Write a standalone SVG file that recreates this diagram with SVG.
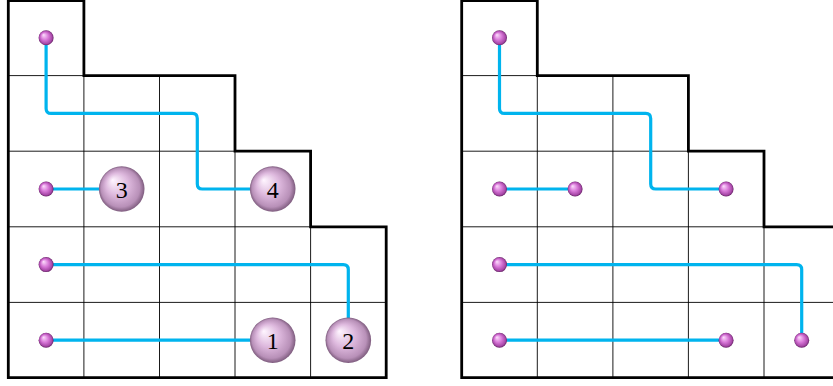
<svg xmlns="http://www.w3.org/2000/svg" width="833" height="386" viewBox="0 0 833 386">
<style>
.grid{stroke:#000;stroke-width:0.9;fill:none}
.outline{stroke:#000;stroke-width:2.8;fill:none;stroke-linejoin:miter}
.path{stroke:#00B4EE;stroke-width:3.2;fill:none;stroke-linejoin:round;stroke-linecap:round}
.big{fill:url(#gBig)}
.small{fill:url(#gSmall)}
.num{font-family:"Liberation Serif","DejaVu Serif",serif;font-size:24px;text-anchor:middle;fill:#000}
</style>
<defs>
<radialGradient id="gBig" cx="0.5" cy="0.5" r="0.5" fx="0.3" fy="0.3">
<stop offset="0" stop-color="#FFF6FF"/>
<stop offset="0.5" stop-color="#DDB8DD"/>
<stop offset="0.85" stop-color="#B890B8"/>
<stop offset="1" stop-color="#7E5C7E"/>
</radialGradient>
<radialGradient id="gSmall" cx="0.5" cy="0.5" r="0.5" fx="0.32" fy="0.3">
<stop offset="0" stop-color="#FDE0FD"/>
<stop offset="0.5" stop-color="#D878D8"/>
<stop offset="0.85" stop-color="#A848A8"/>
<stop offset="1" stop-color="#662266"/>
</radialGradient>
<g id="board">
<path class="grid" d="M8.3,75.6H83.9 M8.3,151.2H235 M8.3,226.8H310.6 M8.3,302.4H386.2 M83.9,75.6V378 M159.5,75.6V378 M235,151.2V378 M310.6,226.8V378"/>
<path class="outline" d="M8.3,0.5H83.9V75.6H235V151.2H310.6V226.8H386.2V377.6H8.3Z"/>
</g>
</defs>
<g id="left-board">
<use href="#board"/>
</g>
<g id="right-board">
<use href="#board" transform="translate(453.4,0)"/>
</g>
<g id="connectors">
<path class="path" d="M46.1,37.8V108.4Q46.1,113.4 51.1,113.4H192.3Q197.3,113.4 197.3,118.4V184Q197.3,189 202.3,189H272.7"/>
<path class="path" d="M46.1,189H121.7"/>
<path class="path" d="M46.1,264.6H343.3Q348.3,264.6 348.3,269.6V340.2"/>
<path class="path" d="M46.1,340.2H272.7"/>
<path class="path" d="M499.5,37.8V108.4Q499.5,113.4 504.5,113.4H645.7Q650.7,113.4 650.7,118.4V184Q650.7,189 655.7,189H726.1"/>
<path class="path" d="M499.5,189H575.1"/>
<path class="path" d="M499.5,264.6H796.7Q801.7,264.6 801.7,269.6V340.2"/>
<path class="path" d="M499.5,340.2H726.1"/>
</g>
<g id="left-nodes">
<g id="L-s1"><circle class="small" cx="46.1" cy="37.8" r="7.5"/></g>
<g id="L-s2"><circle class="small" cx="46.1" cy="189" r="7.5"/></g>
<g id="L-s3"><circle class="small" cx="46.1" cy="264.6" r="7.5"/></g>
<g id="L-s4"><circle class="small" cx="46.1" cy="340.2" r="7.5"/></g>
<g id="L-b3"><circle class="big" cx="121.7" cy="189" r="22.8"/><text class="num" x="121.7" y="197.5">3</text></g>
<g id="L-b4"><circle class="big" cx="272.7" cy="189" r="22.8"/><text class="num" x="272.7" y="197.5">4</text></g>
<g id="L-b1"><circle class="big" cx="272.7" cy="340.2" r="22.8"/><text class="num" x="272.7" y="348.7">1</text></g>
<g id="L-b2"><circle class="big" cx="348.3" cy="340.2" r="22.8"/><text class="num" x="348.3" y="348.7">2</text></g>
</g>
<g id="right-nodes">
<g id="R-s1"><circle class="small" cx="499.5" cy="37.8" r="7.5"/></g>
<g id="R-s2"><circle class="small" cx="499.5" cy="189" r="7.5"/></g>
<g id="R-s3"><circle class="small" cx="575.1" cy="189" r="7.5"/></g>
<g id="R-s4"><circle class="small" cx="726.1" cy="189" r="7.5"/></g>
<g id="R-s5"><circle class="small" cx="499.5" cy="264.6" r="7.5"/></g>
<g id="R-s6"><circle class="small" cx="499.5" cy="340.2" r="7.5"/></g>
<g id="R-s7"><circle class="small" cx="726.1" cy="340.2" r="7.5"/></g>
<g id="R-s8"><circle class="small" cx="801.7" cy="340.2" r="7.5"/></g>
</g>
</svg>
